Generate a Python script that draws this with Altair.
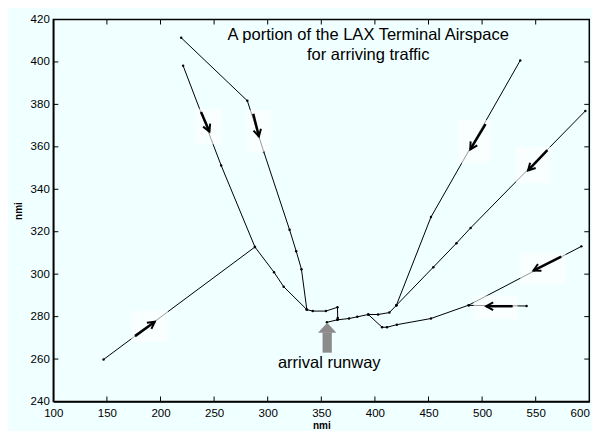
import math
import altair as alt
import pandas as pd

# ---------------- data (nmi) ----------------
x_ticks = [100, 150, 200, 250, 300, 350, 400, 450, 500, 550, 600]
y_ticks = [240, 260, 280, 300, 320, 340, 360, 380, 400, 420]

path_A_x = [221.1, 256.6, 288.1, 305.9, 314.9, 336.5]
path_A_y = [398.2, 351.2, 312.8, 300.9, 294.1, 283.3]
path_G_x = [146.9, 288.1]
path_G_y = [259.8, 312.8]
path_B_x = [219.3, 281.0, 296.4, 320.4, 326.6, 331.5, 336.5]
path_B_y = [411.4, 381.7, 357.6, 320.9, 310.8, 302.3, 283.3]
left_final_x = [336.5, 342.0, 354.3, 365.1, 365.3, 365.1]
left_final_y = [283.3, 282.6, 282.6, 284.4, 279.4, 278.5]
runway_x = [420.0, 413.5, 403.0, 393.8, 383.6, 375.9, 365.1, 355.2]
runway_y = [285.3, 281.9, 281.0, 281.0, 279.9, 279.1, 278.5, 277.3]
path_C_x = [535.6, 452.3, 420.0]
path_C_y = [400.7, 326.9, 285.3]
path_D_x = [596.3, 489.3, 476.1, 454.5, 420.0]
path_D_y = [376.9, 321.8, 314.6, 303.3, 285.3]
path_E_x = [592.6, 487.5, 452.3, 420.5, 411.3, 406.7, 393.8]
path_E_y = [313.1, 285.4, 279.1, 276.2, 275.0, 275.0, 281.0]
path_F_x = [541.5, 487.5]
path_F_y = [285.0, 285.3]

# white patches behind the direction arrows
box_x1 = [172.8, 232.6, 280.3, 478.2, 531.6, 535.6, 492.1]
box_x2 = [207.0, 256.6, 302.9, 507.5, 564.0, 577.9, 533.1]
box_y1 = [268.2, 361.2, 357.3, 352.3, 342.9, 295.2, 278.9]
box_y2 = [282.7, 377.9, 377.4, 372.6, 359.9, 310.1, 290.0]

# direction arrows: tail -> head
arr_tx = [176.2, 237.8, 286.5, 503.2, 560.9, 573.8, 528.5]
arr_ty = [270.8, 376.4, 375.6, 370.7, 358.5, 308.3, 284.9]
arr_hx = [194.7, 245.6, 291.8, 489.0, 542.9, 547.9, 503.8]
arr_hy = [277.6, 367.2, 364.9, 358.8, 348.9, 301.7, 284.9]

# runway marker arrow
rw_x = [355.5]
rw_tail_y = [263.0]
rw_base_y = [272.6]
rw_tip_y = [277.1]

title_lines = ["A portion of the LAX Terminal Airspace", "for arriving traffic"]
title_x = [393.8, 393.8]
title_y = [410.4, 401.0]
label_text = ["arrival runway"]
label_x = [357.4]
label_y = [255.6]

# ---------------- layout ----------------
W, H = 536, 382
XD = [100, 600]
YD = [240, 420]
FONT = "Liberation Sans"
BG = "#f0ffff"

paths = [
    ("A", path_A_x, path_A_y), ("G", path_G_x, path_G_y),
    ("B", path_B_x, path_B_y), ("L", left_final_x, left_final_y),
    ("R", runway_x, runway_y), ("C", path_C_x, path_C_y),
    ("D", path_D_x, path_D_y), ("E", path_E_x, path_E_y),
    ("F", path_F_x, path_F_y),
]
rows = []
for name, xs_, ys_ in paths:
    for i, (xv, yv) in enumerate(zip(xs_, ys_)):
        rows.append({"path": name, "order": i, "x": xv, "y": yv})
df = pd.DataFrame(rows)

sx = W / (XD[1] - XD[0])
sy = H / (YD[1] - YD[0])
angles = []
for tx, ty, hx, hy in zip(arr_tx, arr_ty, arr_hx, arr_hy):
    a = math.degrees(math.atan2((hx - tx) * sx, (hy - ty) * sy)) % 360
    angles.append(a)
arr_df = pd.DataFrame({"tx": arr_tx, "ty": arr_ty, "hx": arr_hx, "hy": arr_hy, "ang": angles})
box_df = pd.DataFrame({"x1": box_x1, "x2": box_x2, "y1": box_y1, "y2": box_y2})
rw_df = pd.DataFrame({"x": rw_x, "y1": rw_tail_y, "y2": rw_base_y, "tip": rw_tip_y})
title_df = pd.DataFrame({"x": title_x, "y": title_y, "t": title_lines})
lab_df = pd.DataFrame({"x": label_x, "y": label_y, "t": label_text})
xt_df = pd.DataFrame({"x": x_ticks[1:-1]})
yt_df = pd.DataFrame({"y": y_ticks[1:-1]})

xsc = alt.Scale(domain=XD, nice=False, zero=False)
ysc = alt.Scale(domain=YD, nice=False, zero=False)

x_axis = alt.Axis(values=x_ticks, grid=False, ticks=False, tickSize=0, labelPadding=6,
                  domainColor="black", domainWidth=1.5, labelFont=FONT, labelFontSize=11.5,
                  labelColor="black", labelFlush=False, labelOverlap=False,
                  labelAlign=alt.ExprRef(expr="datum.value == 600 ? 'right' : 'center'"),
                  title="nmi", titleFont=FONT, titleFontSize=10, titleFontWeight="bold",
                  titleColor="black", titlePadding=1)
y_axis = alt.Axis(values=y_ticks, grid=False, ticks=False, tickSize=0, labelPadding=4,
                  domainColor="black", domainWidth=1.5, labelFont=FONT, labelFontSize=11.5,
                  labelColor="black", labelFlush=False, labelOverlap=False,
                  title="nmi", titleFont=FONT, titleFontSize=10, titleFontWeight="bold",
                  titleColor="black", titlePadding=7)

X = alt.X("x:Q", scale=xsc, axis=x_axis)
Y = alt.Y("y:Q", scale=ysc, axis=y_axis)

lines = alt.Chart(df).mark_line(color="black", strokeWidth=1).encode(
    x=X, y=Y, detail="path:N", order="order:Q",
)
dots = alt.Chart(df).mark_circle(color="black", size=6, opacity=1).encode(x=X, y=Y)
boxes = alt.Chart(box_df).mark_rect(color="white", opacity=0.6).encode(
    x=alt.X("x1:Q", scale=xsc, axis=x_axis), x2="x2:Q",
    y=alt.Y("y1:Q", scale=ysc, axis=y_axis), y2="y2:Q",
)
shafts = alt.Chart(arr_df).mark_rule(color="black", strokeWidth=2.5).encode(
    x=alt.X("tx:Q", scale=xsc, axis=x_axis), x2="hx:Q",
    y=alt.Y("ty:Q", scale=ysc, axis=y_axis), y2="hy:Q",
)
heads = alt.Chart(arr_df).mark_point(
    shape="M-0.55,1L0,0L0.55,1", filled=False, stroke="black", strokeWidth=2,
    size=196, opacity=1,
).encode(
    x=alt.X("hx:Q", scale=xsc, axis=x_axis),
    y=alt.Y("hy:Q", scale=ysc, axis=y_axis),
    angle=alt.Angle("ang:Q", scale=None),
)
rw_shaft = alt.Chart(rw_df).mark_rule(color="#8c8c8c", strokeWidth=9.3, strokeCap="butt").encode(
    x=X,
    y=alt.Y("y1:Q", scale=ysc, axis=y_axis), y2="y2:Q",
)
rw_head = alt.Chart(rw_df).mark_point(
    shape="M0,0L0.92,1L-0.92,1Z", filled=True, color="#8c8c8c", size=400, opacity=1,
).encode(
    x=X,
    y=alt.Y("tip:Q", scale=ysc, axis=y_axis),
)
titles = alt.Chart(title_df).mark_text(
    font=FONT, fontSize=16.5, color="black", align="center", baseline="alphabetic"
).encode(x=X, y=Y, text="t:N")
label = alt.Chart(lab_df).mark_text(
    font=FONT, fontSize=16.5, color="black", align="center", baseline="alphabetic"
).encode(x=X, y=Y, text="t:N")
TL = 5
xt_bottom = alt.Chart(xt_df).mark_rule(color="black", strokeWidth=1).encode(
    x=X, y=alt.value(H), y2=alt.value(H - TL))
xt_top = alt.Chart(xt_df).mark_rule(color="black", strokeWidth=1).encode(
    x=X, y=alt.value(0), y2=alt.value(TL))
yt_left = alt.Chart(yt_df).mark_rule(color="black", strokeWidth=1).encode(
    y=Y, x=alt.value(0), x2=alt.value(TL))
yt_right = alt.Chart(yt_df).mark_rule(color="black", strokeWidth=1).encode(
    y=Y, x=alt.value(W), x2=alt.value(W - TL))

chart = alt.layer(
    lines, dots, boxes, shafts, heads, rw_shaft, rw_head, titles, label,
    xt_bottom, xt_top, yt_left, yt_right,
).properties(
    width=W, height=H,
    autosize=alt.AutoSizeParams(type="none"),
    padding={"left": 45.3, "top": 11.5, "right": 2.7, "bottom": 29.5},
    background=BG,
).configure_view(stroke="black", strokeWidth=1.5)

chart.save("out.html", embed_options={"renderer": "svg", "actions": False})
